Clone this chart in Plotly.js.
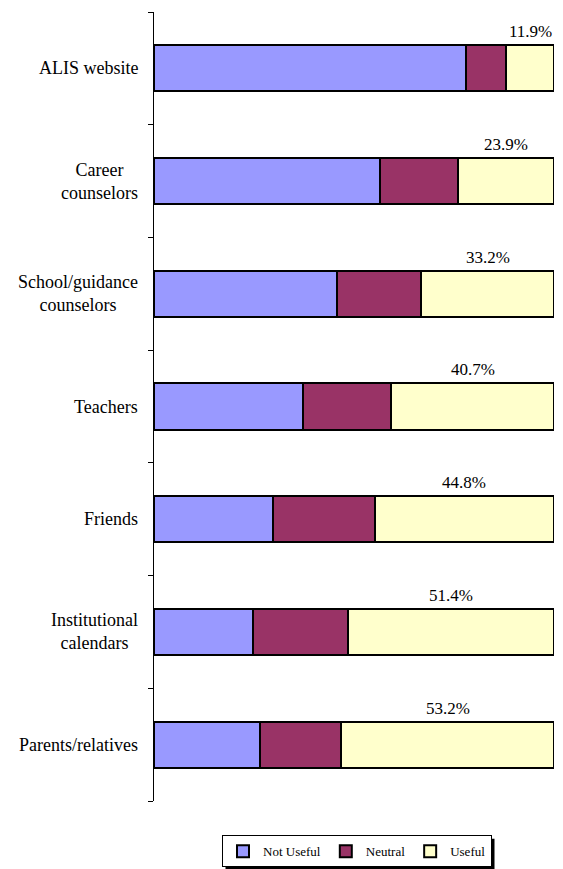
<!DOCTYPE html>
<html>
<head>
<meta charset="utf-8">
<script src="https://cdn.plot.ly/plotly-3.0.1.min.js"></script>
</head>
<body style="margin:0;padding:0;background:#ffffff">
<div id="chart" style="width:563px;height:869px"></div>
<script>
const categories = [
  "ALIS website",
  "Career<br>counselors",
  "School/guidance<br>counselors",
  "Teachers",
  "Friends",
  "Institutional<br>calendars",
  "Parents/relatives"
];
const notUseful = [78.1, 56.5, 45.7, 37.3, 29.8, 24.8, 26.5];
const neutral   = [10.0, 19.6, 21.1, 22.0, 25.4, 23.8, 20.3];
const useful    = [11.9, 23.9, 33.2, 40.7, 44.8, 51.4, 53.2];
const seriesNames = ["Not Useful", "Neutral", "Useful"];

const FONT = 'Liberation Serif';
const colors = ["#9999FF", "#993366", "#FFFFCC"];
const idx = categories.map((_, i) => i);

const seriesVals = [notUseful, neutral, useful];
const traces = seriesVals.map((vals, s) => ({
  type: 'bar',
  orientation: 'h',
  name: seriesNames[s],
  y: idx,
  x: vals,
  marker: { color: colors[s], line: { color: '#000000', width: 2 } },
  hoverinfo: 'x+name'
}));

const BAR_W = 0.41;
const annotations = [];
categories.forEach((c, i) => {
  annotations.push({
    xref: 'paper', yref: 'y', x: 0, y: i,
    xanchor: 'right', yanchor: 'middle', xshift: -14,
    text: c, showarrow: false, align: 'center',
    font: { family: FONT, size: 18, color: '#000000' }
  });
  annotations.push({
    xref: 'x', yref: 'y',
    x: notUseful[i] + neutral[i] + useful[i] / 2,
    y: i - BAR_W / 2,
    xanchor: 'center', yanchor: 'bottom', yshift: 2,
    text: useful[i].toFixed(1) + '%', showarrow: false,
    font: { family: FONT, size: 17, color: '#000000' }
  });
});

const layout = {
  width: 563, height: 869,
  margin: { l: 154, r: 9, t: 12, b: 68, autoexpand: false },
  paper_bgcolor: '#ffffff', plot_bgcolor: '#ffffff',
  barmode: 'stack',
  bargap: 1 - BAR_W,
  xaxis: {
    range: [0, 100], showgrid: false, zeroline: false,
    showline: false, showticklabels: false, ticks: ''
  },
  yaxis: {
    type: 'linear', range: [6.5, -0.5],
    showgrid: false, zeroline: false,
    showline: true, linecolor: '#000000', linewidth: 1,
    ticks: 'outside', ticklen: 5, tickcolor: '#000000', tickwidth: 1,
    tickvals: [-0.5, 0.5, 1.5, 2.5, 3.5, 4.5, 5.5, 6.5],
    showticklabels: false
  },
  showlegend: true,
  legend: {
    orientation: 'h',
    x: 0.5075, xanchor: 'center',
    y: -0.0435, yanchor: 'top',
    bgcolor: '#ffffff', bordercolor: '#000000', borderwidth: 1,
    font: { family: FONT, size: 13, color: '#000000' },
    traceorder: 'normal',
    itemwidth: 30
  },
  annotations: annotations
};

const gd = document.getElementById('chart');
Plotly.newPlot(gd, traces, layout, { displayModeBar: false }).then(function () {
  // drop shadow behind the legend box (as in the original)
  const bg = gd.querySelector('.legend .bg');
  if (!bg) return;
  const pr = gd.getBoundingClientRect();
  const r = bg.getBoundingClientRect();
  const fl = gd._fullLayout;
  const px2x = function (px) { return (px - pr.left - fl._size.l) / fl._size.w; };
  const px2y = function (py) { return 1 - (py - pr.top - fl._size.t) / fl._size.h; };
  const off = 3;
  return Plotly.relayout(gd, {
    shapes: [{
      type: 'rect', xref: 'paper', yref: 'paper', layer: 'above',
      x0: px2x(r.left + off), x1: px2x(r.right + off),
      y0: px2y(r.top + off), y1: px2y(r.bottom + off),
      fillcolor: '#000000', line: { width: 0 }
    }]
  });
});
</script>
</body>
</html>
